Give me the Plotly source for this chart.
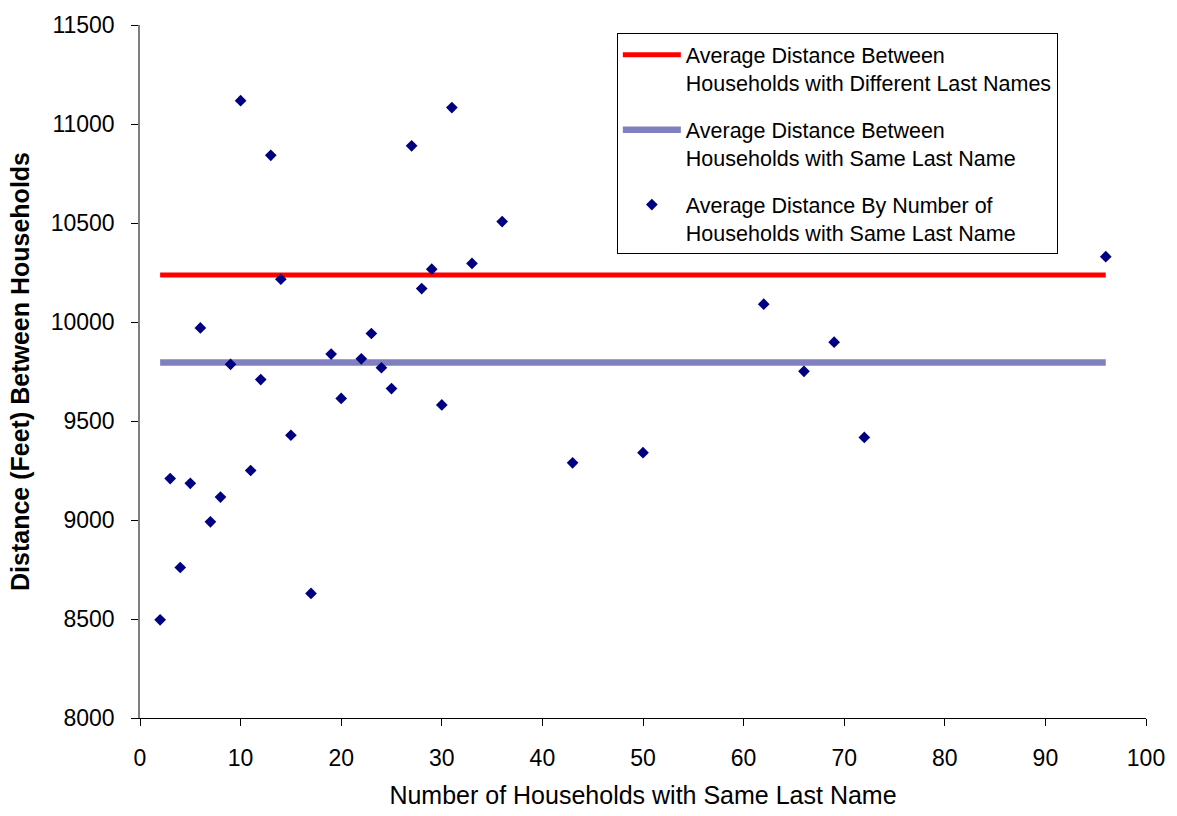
import plotly.graph_objects as go

# ---- data ----
households = [2, 3, 4, 5, 6, 7, 8, 9, 10, 11, 12, 13, 14, 15, 17, 19, 20, 22, 23, 24,
              25, 27, 28, 29, 30, 31, 33, 36, 43, 50, 62, 66, 69, 72, 96]
avg_distance = [8496, 9209, 8760, 9185, 9970, 8991, 9116, 9786, 11118, 9250,
                9709, 10842, 10216, 9428, 8629, 9838, 9614, 9814, 9942, 9769,
                9664, 10890, 10169, 10267, 9581, 11083, 10296, 10507, 9289, 9340,
                10090, 9751, 9898, 9417, 10330]
line_x = [2, 96]
avg_diff_last_names = 10238
avg_same_last_name = 9796

x_ticks = [0, 10, 20, 30, 40, 50, 60, 70, 80, 90, 100]
y_ticks = [8000, 8500, 9000, 9500, 10000, 10500, 11000, 11500]

names = [
    "Average Distance Between<br>Households with Different Last Names",
    "Average Distance Between<br>Households with Same Last Name",
    "Average Distance By Number of<br>Households with Same Last Name",
]

FONT = "Arial, 'Liberation Sans', sans-serif"

fig = go.Figure()
fig.add_trace(go.Scatter(
    x=line_x, y=[avg_diff_last_names] * len(line_x), mode="lines",
    line=dict(color="#FF0000", width=5), name=names[0], legendgroup="g1"))
fig.add_trace(go.Scatter(
    x=line_x, y=[avg_same_last_name] * len(line_x), mode="lines",
    line=dict(color="#8080C0", width=6.5), name=names[1], legendgroup="g2"))
fig.add_trace(go.Scatter(
    x=households, y=avg_distance, mode="markers",
    marker=dict(symbol="diamond", size=9, color="#000080", line=dict(width=0)),
    name=names[2], legendgroup="g3"))

fig.update_layout(
    width=1177, height=816,
    margin=dict(l=140, r=27, t=22, b=93, pad=0),
    plot_bgcolor="white", paper_bgcolor="white",
    font=dict(family=FONT, color="black"),
    showlegend=True,
    legend=dict(
        x=0.474, y=0.988, xanchor="left", yanchor="top",
        bgcolor="white", bordercolor="#000000", borderwidth=1,
        font=dict(family=FONT, size=21.5, color="black"),
        tracegroupgap=16, valign="top", itemwidth=58,
        traceorder="grouped",
    ),
)

fig.update_xaxes(
    range=[0, 100], tickmode="array", tickvals=x_ticks, ticktext=[str(v) for v in x_ticks],
    showline=True, linecolor="black", linewidth=1, mirror=False,
    ticks="outside", ticklen=7, tickcolor="black", tickwidth=1,
    showgrid=False, zeroline=False,
    tickfont=dict(family=FONT, size=23, color="black"), ticklabelstandoff=12,
    title=dict(text="Number of Households with Same Last Name",
               font=dict(family=FONT, size=25, color="black"), standoff=16),
)
fig.update_yaxes(
    range=[8000, 11500], tickmode="array", tickvals=y_ticks, ticktext=[str(v) for v in y_ticks],
    showline=True, linecolor="#808080", linewidth=1.5, mirror=False,
    ticks="outside", ticklen=7, tickcolor="black", tickwidth=1,
    showgrid=False, zeroline=False,
    tickfont=dict(family=FONT, size=23, color="black"), ticklabelstandoff=12,
    title=dict(text="<b>Distance (Feet) Between Households</b>",
               font=dict(family=FONT, size=25, color="black"), standoff=14),
)

fig.write_html("out.html")
